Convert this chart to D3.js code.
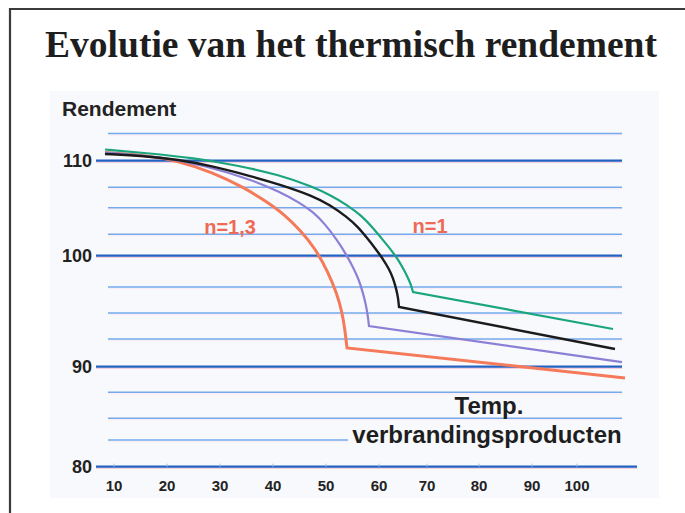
<!DOCTYPE html>
<html>
<head>
<meta charset="utf-8">
<script src="https://cdn.jsdelivr.net/npm/d3@7"></script>
<style>
  body { margin: 0; background: #fff; }
  svg { display: block; }
</style>
</head>
<body>
<svg id="chart" width="685" height="513"></svg>
<script>
const title = "Evolutie van het thermisch rendement";
const yTitle = "Rendement";
const xTitle = ["Temp.", "verbrandingsproducten"];

const xTicks = [10, 20, 30, 40, 50, 60, 70, 80, 90, 100];
const yMajor = [110, 100, 90, 80];
const yMinor = [112.5, 107.5, 105, 102.5, 97.5, 95, 92.5, 87.5, 85, 82.5];

// curves: last point is the end of the straight tail after the knee
const green = [[8.3, 111.03], [15.85, 110.71], [25.28, 110.25], [32.83, 109.6], [41.32, 108.66],
  [47.55, 107.53], [50.75, 106.56], [53.96, 105.33], [56.79, 104.22], [58.87, 103.09],
  [60.83, 101.83], [62.71, 100.55], [64.17, 99.58], [65.21, 98.86], [66.04, 98.22],
  [66.67, 97.66], [67.08, 97.02], [108.0, 93.46]];
const black = [[8.3, 110.62], [15.85, 110.43], [22.08, 110.11], [28.49, 109.5], [36.04, 108.52],
  [41.32, 107.76], [47.55, 106.43], [50.75, 105.33], [53.96, 104.13], [56.04, 103.19],
  [57.74, 102.07], [59.25, 100.9], [60.83, 99.74], [62.08, 98.94], [62.92, 98.22],
  [63.54, 97.4], [63.96, 96.54], [64.17, 95.58], [108.44, 91.6]];
const purple = [[8.3, 110.75], [19.06, 110.34], [27.17, 109.55], [36.04, 108.19], [41.32, 106.92],
  [45.09, 105.58], [47.55, 104.6], [49.81, 103.47], [52.08, 101.83], [53.77, 100.2],
  [55.09, 99.1], [56.23, 98.06], [56.98, 96.92], [57.55, 95.77], [57.92, 94.62],
  [58.11, 93.75], [110.0, 90.42]];
const orange = [[8.3, 110.75], [15.85, 110.52], [22.08, 109.97], [28.49, 108.94], [34.72, 107.41],
  [38.87, 105.7], [42.26, 104.31], [45.09, 102.9], [47.92, 100.9], [50.38, 98.7],
  [52.08, 96.83], [53.02, 95.1], [53.58, 93.37], [53.96, 91.69], [110.67, 88.9]];

const curveLabels = [
  { text: "n=1,3", x: 31.9, y: 103.2 },
  { text: "n=1", x: 70.6, y: 103.3 }
];

const svg = d3.select("#chart");
const sans = "'Liberation Sans', Arial, Helvetica, sans-serif";

// the printed grid is not evenly spaced, so the scales follow it piece by piece
let x = d3.scaleLinear()
  .domain(xTicks)
  .range([114, 167, 220, 273, 326, 379, 427, 479, 532, 577]);
let yDomain = [80, 82.5, 85, 87.5, 90, 92.5, 95, 97.5, 100, 102.5, 105, 107.5, 110, 112.5];
let y = d3.scaleLinear()
  .domain(yDomain)
  .range([466.7, 440, 418.3, 392.3, 366.7, 339, 313, 287, 255.7, 234.3, 207.7, 187.3, 160.7, 133.5]);

// frame
svg.append("path")
  .attr("d", "M10,513V9H685")
  .attr("fill", "none")
  .attr("stroke", "#3b3b3b")
  .attr("stroke-width", 2.2);

svg.append("text")
  .attr("x", 351)
  .attr("y", 57)
  .attr("text-anchor", "middle")
  .attr("font-family", "'Liberation Serif', 'Times New Roman', serif")
  .attr("font-weight", "bold")
  .attr("font-size", 37.5)
  .attr("fill", "#1e1e1e")
  .text(title);

// panel
svg.append("rect")
  .attr("x", 50).attr("y", 91)
  .attr("width", 609).attr("height", 407)
  .attr("fill", "#f8f9fc");

// minor grid
yMinor.forEach(v => {
  svg.append("line")
    .attr("x1", 108).attr("x2", 622)
    .attr("y1", y(v) + 1.6).attr("y2", y(v) + 1.6)
    .attr("stroke", "#fbe8ef").attr("stroke-width", 0.7);
  svg.append("line")
    .attr("x1", 108).attr("x2", 622)
    .attr("y1", y(v)).attr("y2", y(v))
    .attr("stroke", "#74aaec").attr("stroke-width", 1.4);
});

// major grid
yMajor.forEach(v => {
  let end = v === 80 ? 637 : 622;
  svg.append("line")
    .attr("x1", 96).attr("x2", end)
    .attr("y1", y(v) + 1.6).attr("y2", y(v) + 1.6)
    .attr("stroke", "#f3bfd0").attr("stroke-width", 1.1);
  svg.append("line")
    .attr("x1", 96).attr("x2", end)
    .attr("y1", y(v)).attr("y2", y(v))
    .attr("stroke", "#2362c2").attr("stroke-width", 2.2);
});

// small notches on the bottom line
xTicks.forEach(v => {
  svg.append("line")
    .attr("x1", x(v)).attr("x2", x(v))
    .attr("y1", y(80) - 3).attr("y2", y(80))
    .attr("stroke", "#9cc0ea").attr("stroke-width", 1);
});

// y labels
svg.selectAll(".ylab")
  .data(yMajor)
  .enter()
  .append("text")
  .attr("class", "ylab")
  .attr("x", 92)
  .attr("y", d => y(d) + 6.5)
  .attr("text-anchor", "end")
  .attr("font-family", sans)
  .attr("font-weight", "bold")
  .attr("font-size", 18)
  .attr("fill", "#222")
  .text(d => d);

// x labels
svg.selectAll(".xlab")
  .data(xTicks)
  .enter()
  .append("text")
  .attr("class", "xlab")
  .attr("x", d => x(d))
  .attr("y", 491)
  .attr("text-anchor", "middle")
  .attr("font-family", sans)
  .attr("font-weight", "bold")
  .attr("font-size", 15)
  .attr("fill", "#222")
  .text(d => d);

svg.append("text")
  .attr("x", 62).attr("y", 116)
  .attr("font-family", sans)
  .attr("font-weight", "bold")
  .attr("font-size", 21)
  .attr("fill", "#222")
  .text(yTitle);

// curves: smooth part up to the knee, then a straight tail
let smooth = d3.line()
  .x(d => x(d[0]))
  .y(d => y(d[1]))
  .curve(d3.curveBasis);

let series = [
  { pts: orange, color: "#f47a5a", w: 3 },
  { pts: purple, color: "#8a80d6", w: 2.2 },
  { pts: black, color: "#1b1b1b", w: 2.4 },
  { pts: green, color: "#1aa57c", w: 2.2 }
];

series.forEach(s => {
  let last = s.pts[s.pts.length - 1];
  let d = smooth(s.pts.slice(0, -1)) + "L" + x(last[0]) + "," + y(last[1]);
  svg.append("path")
    .attr("d", d)
    .attr("fill", "none")
    .attr("stroke", s.color)
    .attr("stroke-width", s.w)
    .attr("stroke-linejoin", "miter");
});

svg.selectAll(".nlab")
  .data(curveLabels)
  .enter()
  .append("text")
  .attr("class", "nlab")
  .attr("x", d => x(d.x))
  .attr("y", d => y(d.y) + 7)
  .attr("text-anchor", "middle")
  .attr("font-family", sans)
  .attr("font-weight", "bold")
  .attr("font-size", 20)
  .attr("fill", "#ef6a55")
  .text(d => d.text);

// x axis title, with a knock-out behind the second line
svg.append("rect")
  .attr("x", 348).attr("y", 423)
  .attr("width", 278).attr("height", 26)
  .attr("fill", "#f8f9fc");

svg.append("text")
  .attr("x", 489).attr("y", 414)
  .attr("text-anchor", "middle")
  .attr("font-family", sans)
  .attr("font-weight", "bold")
  .attr("font-size", 24)
  .attr("fill", "#1e1e1e")
  .text(xTitle[0]);

svg.append("text")
  .attr("x", 487).attr("y", 443)
  .attr("text-anchor", "middle")
  .attr("font-family", sans)
  .attr("font-weight", "bold")
  .attr("font-size", 24)
  .attr("fill", "#1e1e1e")
  .text(xTitle[1]);
</script>
</body>
</html>
